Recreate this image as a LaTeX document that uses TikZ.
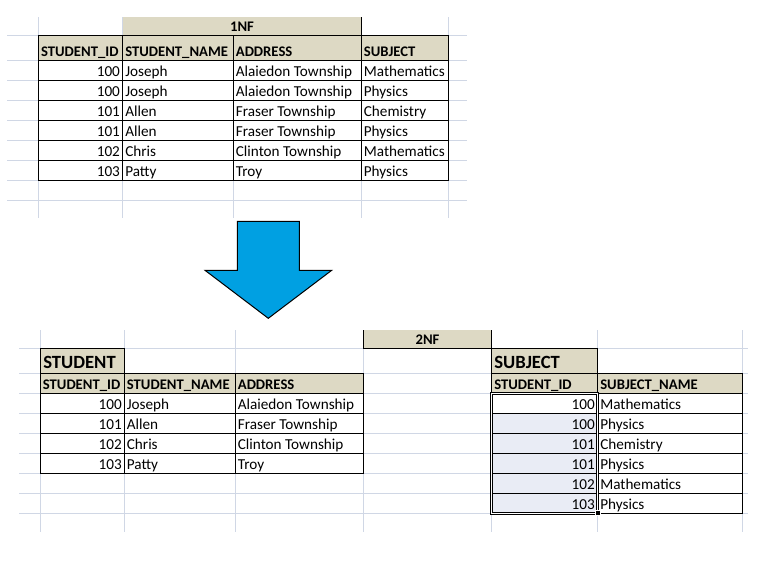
\documentclass[tikz,border=0pt]{standalone}
\usepackage{fontspec}
\setmainfont{Carlito}
\definecolor{gridc}{RGB}{208,215,229}
\definecolor{hdrc}{RGB}{221,217,196}
\definecolor{selc}{RGB}{233,236,245}
\definecolor{arrowc}{RGB}{0,160,226}
\begin{document}
\begin{tikzpicture}[x=0.75pt,y=-0.75pt,
  gridline/.style={draw=gridc,line width=0.75pt},
  tbl/.style={draw=black,line width=0.75pt},
  txt/.style={anchor=base west,inner sep=0pt,font=\fontsize{11.4}{13}\selectfont},
  num/.style={anchor=base east,inner sep=0pt,font=\fontsize{11.4}{13}\selectfont},
  hdr/.style={anchor=base west,inner sep=0pt,font=\fontsize{11}{13}\selectfont\bfseries},
  ttl/.style={anchor=base,inner sep=0pt,font=\fontsize{11}{13}\selectfont\bfseries},
  big/.style={anchor=base west,inner sep=0pt,font=\fontsize{14}{16}\selectfont\bfseries},
  bigarrow/.style={fill=arrowc,draw=black,line width=0.75pt,line join=miter}]
\useasboundingbox[fill=white] (0,0) rectangle (767,568);

% ---------------- top sheet (1NF) ----------------
\foreach \y in {35,60.5,80.5,100.5,120.5,140.5,160.5,180.5,200.5}
  \draw[gridline] (7,\y) -- (467,\y);
\foreach \x in {38.5,122.7,233.3,361.3,448.3}
  \draw[gridline] (\x,17) -- (\x,218.3);
\fill[hdrc] (122.7,17) rectangle (361.3,35);
\fill[hdrc] (38.5,35) rectangle (448.3,60.5);
\draw[tbl] (38.5,35) rectangle (448.3,180.5);
\foreach \y in {60.5,80.5,100.5,120.5,140.5,160.5}
  \draw[tbl] (38.5,\y) -- (448.3,\y);
\foreach \x in {122.7,233.3,361.3}
  \draw[tbl] (\x,35) -- (\x,180.5);
\draw[tbl] (361.3,17) -- (361.3,35);
\draw[tbl] (122.7,35) -- (361.3,35);

\node[ttl] (nf1) at (242,31.5) {1NF};
\node[hdr] (h1a) at (40.8,56) {STUDENT\_ID};
\node[hdr] (h1b) at (125,56) {STUDENT\_NAME};
\node[hdr] (h1c) at (235.6,56) {ADDRESS};
\node[hdr] (h1d) at (363.6,56) {SUBJECT};
\foreach \id/\nm/\ad/\sb [count=\i, evaluate=\i as \yb using 56+20*\i] in
  {100/Joseph/Alaiedon Township/Mathematics,
   100/Joseph/Alaiedon Township/Physics,
   101/Allen/Fraser Township/Chemistry,
   101/Allen/Fraser Township/Physics,
   102/Chris/Clinton Township/Mathematics,
   103/Patty/Troy/Physics}{
  \node[num] (a-id-\i) at (120.2,\yb) {\id};
  \node[txt] (a-nm-\i) at (125,\yb) {\nm};
  \node[txt] (a-ad-\i) at (235.6,\yb) {\ad};
  \node[txt] (a-sb-\i) at (363.6,\yb) {\sb};
}

% ---------------- arrow ----------------
\filldraw[bigarrow] (237.3,221.3) -- (299.3,221.3) -- (299.3,270.3) -- (331.7,270.3)
  -- (268.3,318.3) -- (205,270.3) -- (237.3,270.3) -- cycle;

% ---------------- bottom sheet (2NF) ----------------
\foreach \y in {348.3,373.3,393.3,413.3,433.3,453.3,473.3,493.3,513.3}
  \draw[gridline] (19,\y) -- (748,\y);
\foreach \x in {40.3,124.3,235.3,363.3,491.7,597.7,742.5}
  \draw[gridline] (\x,330) -- (\x,531.7);

% 2NF title
\fill[hdrc] (363.3,330) rectangle (491.7,348.3);
\draw[tbl] (363.3,330) -- (363.3,348.3) -- (491.7,348.3) -- (491.7,330);
\node[ttl] (nf2) at (427.5,344.3) {2NF};

% STUDENT table
\fill[hdrc] (40.3,348.3) rectangle (124.3,373.3);
\fill[hdrc] (40.3,373.3) rectangle (363.3,393.3);
\draw[tbl] (40.3,348.3) rectangle (124.3,373.3);
\draw[tbl] (40.3,373.3) rectangle (363.3,473.3);
\foreach \y in {393.3,413.3,433.3,453.3}
  \draw[tbl] (40.3,\y) -- (363.3,\y);
\foreach \x in {124.3,235.3}
  \draw[tbl] (\x,373.3) -- (\x,473.3);
\node[big] (st) at (43,368.5) {STUDENT};
\node[hdr] (h2a) at (42.6,389.6) {STUDENT\_ID};
\node[hdr] (h2b) at (126.6,389.6) {STUDENT\_NAME};
\node[hdr] (h2c) at (237.6,389.6) {ADDRESS};
\foreach \id/\nm/\ad [count=\i, evaluate=\i as \yb using 389.6+20*\i] in
  {100/Joseph/Alaiedon Township,
   101/Allen/Fraser Township,
   102/Chris/Clinton Township,
   103/Patty/Troy}{
  \node[num] (b-id-\i) at (122,\yb) {\id};
  \node[txt] (b-nm-\i) at (126.6,\yb) {\nm};
  \node[txt] (b-ad-\i) at (237.6,\yb) {\ad};
}

% SUBJECT table
\fill[hdrc] (491.7,348.3) rectangle (597.7,373.3);
\fill[hdrc] (491.7,373.3) rectangle (742.5,393.3);
\fill[selc] (491.7,413.3) rectangle (597.7,513.3);
\draw[tbl] (491.7,348.3) rectangle (597.7,373.3);
\draw[tbl] (491.7,373.3) rectangle (742.5,513.3);
\foreach \y in {393.3,413.3,433.3,453.3,473.3,493.3}
  \draw[tbl] (491.7,\y) -- (742.5,\y);
\draw[tbl] (597.7,373.3) -- (597.7,513.3);
\draw[draw=black,line width=0.75pt,double=white,double distance=1pt]
  (491.7,393.3) rectangle (597.7,513.3);
\fill[black,draw=white,line width=0.5pt] (595.2,510.8) rectangle (600.2,515.8);
\node[big] (sj) at (494,368.5) {SUBJECT};
\node[hdr] (h3a) at (494,389.6) {STUDENT\_ID};
\node[hdr] (h3b) at (600,389.6) {SUBJECT\_NAME};
\foreach \id/\sb [count=\i, evaluate=\i as \yb using 389.6+20*\i] in
  {100/Mathematics,100/Physics,101/Chemistry,101/Physics,102/Mathematics,103/Physics}{
  \node[num] (c-id-\i) at (595,\yb) {\id};
  \node[txt] (c-sb-\i) at (600,\yb) {\sb};
}
\end{tikzpicture}
\end{document}
